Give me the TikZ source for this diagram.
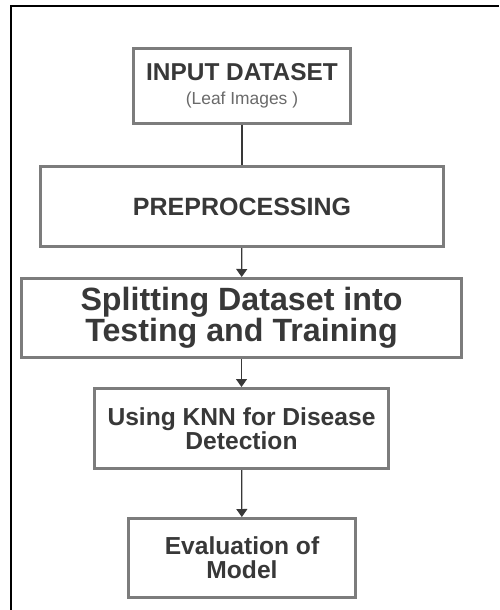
\documentclass[tikz,border=0pt]{standalone}
\usepackage{fontspec}
\setmainfont{Liberation Sans}
\usetikzlibrary{arrows.meta}
\definecolor{boxgray}{HTML}{7C7C7C}
\definecolor{txtgray}{HTML}{383838}
\definecolor{subgray}{HTML}{6A6A6A}
\begin{document}
\begin{tikzpicture}[x=0.5pt,y=-0.5pt]
\tikzset{stepbox/.style={draw=boxgray, line width=1.5pt, fill=white, align=center, text=txtgray, inner sep=0pt},
  link/.style={draw=txtgray, line width=0.6pt},
  flow/.style={link, -{Triangle[width=5.5pt,length=4pt]}}}
\useasboundingbox (0,0) rectangle (499,610);
% frame
\draw[line width=1pt] (11,610) -- (11,6) -- (499,6);
\node[stepbox, minimum width=108.5pt, minimum height=37.5pt, font=\fontsize{12.2}{13}\bfseries] (blk0) at (242,86)
  {INPUT DATASET\\[-1pt]{\fontsize{8.7}{10}\mdseries\color{subgray}(Leaf Images )}};
\node[stepbox, minimum width=201.5pt, minimum height=40pt, font=\fontsize{12.5}{14}\bfseries] (blk1) at (242,206.5)
  {PREPROCESSING};
\node[stepbox, minimum width=220pt, minimum height=39.5pt, font=\fontsize{16.1}{15.5}\bfseries] (blk2) at (241.5,318)
  {Splitting Dataset into\\Testing and Training};
\node[stepbox, minimum width=147pt, minimum height=40pt, font=\fontsize{12.3}{12}\bfseries] (blk3) at (241.5,428.5)
  {Using KNN for Disease\\Detection};
\node[stepbox, minimum width=113.5pt, minimum height=39.5pt, font=\fontsize{12.3}{12}\bfseries] (blk4) at (242,558)
  {Evaluation of\\Model};
\draw[link] (blk0) -- (blk1);
\draw[flow] (blk1) -- (blk2);
\draw[flow] (blk2) -- (blk3);
\draw[flow] (blk3) -- (blk4);
\end{tikzpicture}
\end{document}
